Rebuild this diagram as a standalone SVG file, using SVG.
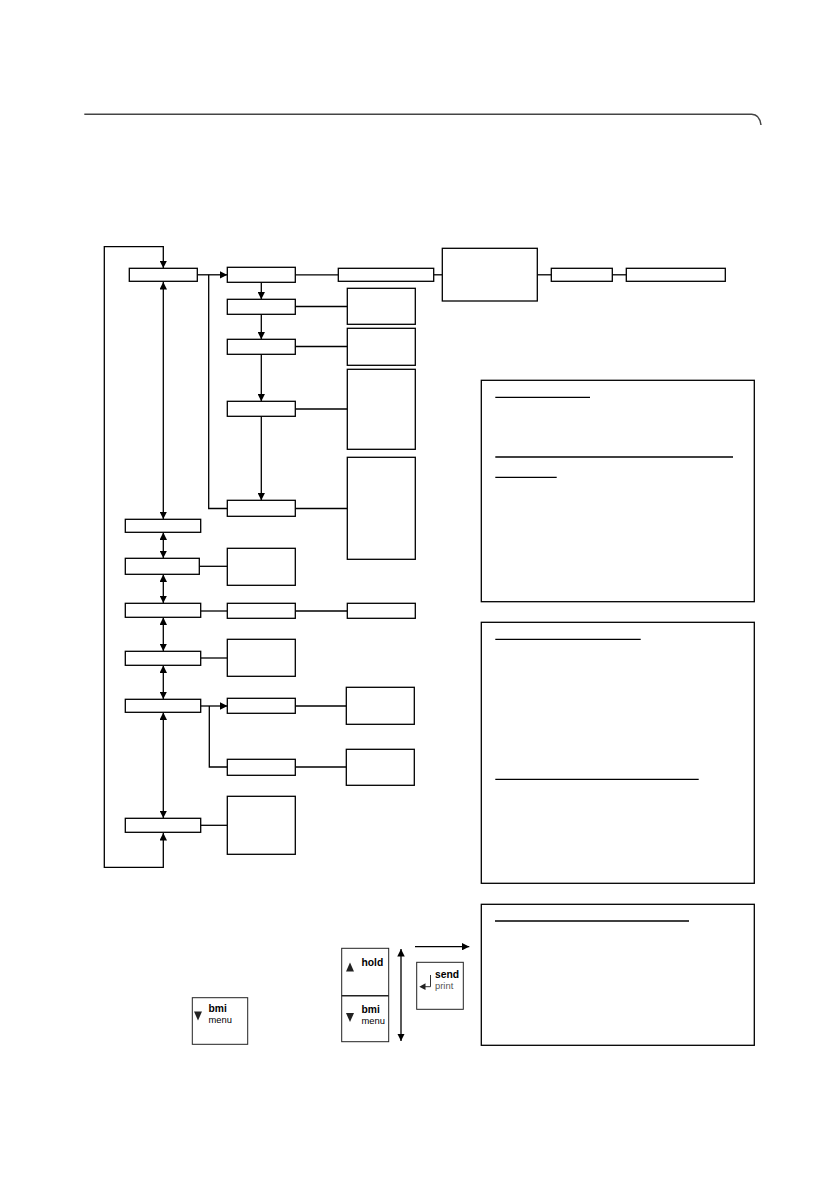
<svg xmlns="http://www.w3.org/2000/svg" width="838" height="1190" viewBox="0 0 838 1190">
<style>
.b{fill:#fff;stroke:#000;stroke-width:1.3}
.c{fill:none;stroke:#000;stroke-width:1.3}
.u{stroke:#000;stroke-width:1.3}
.t{font-family:"Liberation Sans",Arial,sans-serif;font-size:10.3px;fill:#000}
.r{font-size:9.4px}
.bd{font-weight:bold}
.g{fill:#222}
</style>
<defs>
<marker id="ah" viewBox="0 0 10 10" refX="10" refY="5" markerWidth="7.5" markerHeight="7.5" markerUnits="userSpaceOnUse" orient="auto-start-reverse">
<path d="M0,0 L10,5 L0,10 Z" fill="#000"/>
</marker>
</defs>
<rect width="838" height="1190" fill="#fff"/>
<path d="M84.3,114.3 H751.7 Q759.5,114.3 761,125" fill="none" stroke="#444" stroke-width="1.5"/>

<g id="connectors">
<path class="c" d="M163.3,833 V867.3 H104.3 V246.7 H163.3 V268" marker-start="url(#ah)" marker-end="url(#ah)"/>
<line class="c" x1="163.3" y1="282" x2="163.3" y2="519" marker-start="url(#ah)" marker-end="url(#ah)"/>
<line class="c" x1="163.3" y1="532.5" x2="163.3" y2="558" marker-start="url(#ah)" marker-end="url(#ah)"/>
<line class="c" x1="163.3" y1="574.5" x2="163.3" y2="603" marker-start="url(#ah)" marker-end="url(#ah)"/>
<line class="c" x1="163.3" y1="617.5" x2="163.3" y2="651" marker-start="url(#ah)" marker-end="url(#ah)"/>
<line class="c" x1="163.3" y1="665.5" x2="163.3" y2="699" marker-start="url(#ah)" marker-end="url(#ah)"/>
<line class="c" x1="163.3" y1="712.5" x2="163.3" y2="818" marker-start="url(#ah)" marker-end="url(#ah)"/>
<line class="c" x1="197.3" y1="274.8" x2="227.3" y2="274.8" marker-end="url(#ah)"/>
<path class="c" d="M208.7,274.8 V508.5 H227.3"/>
<line class="c" x1="261.3" y1="282.3" x2="261.3" y2="299.3" marker-end="url(#ah)"/>
<line class="c" x1="261.3" y1="314.3" x2="261.3" y2="339.3" marker-end="url(#ah)"/>
<line class="c" x1="261.3" y1="354.3" x2="261.3" y2="401.3" marker-end="url(#ah)"/>
<line class="c" x1="261.3" y1="416.3" x2="261.3" y2="500.3" marker-end="url(#ah)"/>
<line class="c" x1="295.3" y1="274.8" x2="338.3" y2="274.8"/>
<line class="c" x1="433.7" y1="274.8" x2="442.3" y2="274.8"/>
<line class="c" x1="537.3" y1="274.8" x2="551.3" y2="274.8"/>
<line class="c" x1="612.3" y1="274.8" x2="626.3" y2="274.8"/>
<line class="c" x1="295.3" y1="306.5" x2="347.3" y2="306.5"/>
<line class="c" x1="295.3" y1="346.5" x2="347.3" y2="346.5"/>
<line class="c" x1="295.3" y1="409" x2="347.3" y2="409"/>
<line class="c" x1="295.3" y1="508.5" x2="347.3" y2="508.5"/>
<line class="c" x1="199.3" y1="566.3" x2="227.3" y2="566.3"/>
<line class="c" x1="200.7" y1="611" x2="227.3" y2="611"/>
<line class="c" x1="295.3" y1="611" x2="347.3" y2="611"/>
<line class="c" x1="200.7" y1="658" x2="227.3" y2="658"/>
<line class="c" x1="200.7" y1="706" x2="227.3" y2="706" marker-end="url(#ah)"/>
<path class="c" d="M209.3,706 V767 H227.3"/>
<line class="c" x1="295.3" y1="706" x2="346.3" y2="706"/>
<line class="c" x1="295.3" y1="767" x2="346.3" y2="767"/>
<line class="c" x1="200.7" y1="825.3" x2="227.3" y2="825.3"/>
<line class="c" x1="401" y1="949" x2="401" y2="1041" stroke-width="1.1" marker-start="url(#ah)" marker-end="url(#ah)"/>
<line class="c" x1="415" y1="946.7" x2="469.3" y2="946.7" stroke-width="1.1" marker-end="url(#ah)"/>
</g>

<g id="main1"><rect class="b" x="129.3" y="268.3" width="68" height="13"/></g>
<g id="sub1"><rect class="b" x="227.3" y="267.3" width="68" height="15"/></g>
<g id="sub1a"><rect class="b" x="338.3" y="268.3" width="95.4" height="13"/></g>
<g id="sub1b"><rect class="b" x="442.3" y="248.3" width="95" height="52.7"/></g>
<g id="sub1c"><rect class="b" x="551.3" y="268.3" width="61" height="13"/></g>
<g id="sub1d"><rect class="b" x="626.3" y="268.3" width="99" height="13"/></g>
<g id="sub2"><rect class="b" x="227.3" y="299.3" width="68" height="15"/></g>
<g id="side1"><rect class="b" x="347.3" y="288.3" width="68" height="36"/></g>
<g id="sub3"><rect class="b" x="227.3" y="339.3" width="68" height="15"/></g>
<g id="side2"><rect class="b" x="347.3" y="328.3" width="68" height="37"/></g>
<g id="sub4"><rect class="b" x="227.3" y="401.3" width="68" height="15"/></g>
<g id="side3"><rect class="b" x="347.3" y="369.3" width="68" height="80"/></g>
<g id="sub5"><rect class="b" x="227.3" y="500.3" width="68" height="16"/></g>
<g id="side4"><rect class="b" x="347.3" y="457.3" width="68" height="102"/></g>
<g id="main2"><rect class="b" x="125.3" y="519.3" width="75.4" height="13"/></g>
<g id="main3"><rect class="b" x="125.3" y="558.3" width="74" height="16"/></g>
<g id="main3a"><rect class="b" x="227.3" y="548.3" width="68" height="37"/></g>
<g id="main4"><rect class="b" x="125.3" y="603.3" width="75.4" height="14"/></g>
<g id="main4a"><rect class="b" x="227.3" y="603.3" width="68" height="15"/></g>
<g id="main4b"><rect class="b" x="347.3" y="603.3" width="68" height="15"/></g>
<g id="main5"><rect class="b" x="125.3" y="651.3" width="75.4" height="14"/></g>
<g id="main5a"><rect class="b" x="227.3" y="639.3" width="68" height="37"/></g>
<g id="main6"><rect class="b" x="125.3" y="699.3" width="75.4" height="13"/></g>
<g id="main6a"><rect class="b" x="227.3" y="698.3" width="68" height="15"/></g>
<g id="main6b"><rect class="b" x="227.3" y="759.3" width="68" height="16"/></g>
<g id="main6c"><rect class="b" x="346.3" y="687.3" width="68" height="37"/></g>
<g id="main6d"><rect class="b" x="346.3" y="749.3" width="68" height="36"/></g>
<g id="main7"><rect class="b" x="125.3" y="818.3" width="75.4" height="14"/></g>
<g id="main7a"><rect class="b" x="227.3" y="796.3" width="68" height="58"/></g>

<g id="note1">
<rect class="b" x="481.3" y="380.3" width="273" height="221.4"/>
<line class="u" x1="495.3" y1="397.3" x2="590" y2="397.3"/>
<line class="u" x1="495.3" y1="457" x2="733" y2="457"/>
<line class="u" x1="495.3" y1="477.3" x2="556.7" y2="477.3"/>
</g>
<g id="note2">
<rect class="b" x="481.3" y="622.3" width="273" height="261"/>
<line class="u" x1="495.3" y1="639.3" x2="640.7" y2="639.3"/>
<line class="u" x1="495.3" y1="779.3" x2="698.7" y2="779.3"/>
</g>
<g id="note3">
<rect class="b" x="481.3" y="904.3" width="273" height="141"/>
<line class="u" x1="495" y1="921" x2="689" y2="921"/>
</g>

<g id="key-bmi">
<rect x="192.3" y="997.7" width="55.4" height="46.6" fill="#fff" stroke="#222" stroke-width="1"/>
<path class="g" d="M194,1011.5 L202,1011.5 L198,1020.5 Z"/>
<text class="t bd" x="208.5" y="1012.3">bmi</text>
<text class="t r" x="208.5" y="1023.3">menu</text>
</g>

<g id="key-hold-bmi">
<rect x="341.7" y="948.3" width="47" height="93.4" fill="#fff" stroke="#222" stroke-width="1"/>
<line x1="341.7" y1="995.7" x2="388.7" y2="995.7" stroke="#222" stroke-width="1.6"/>
<path class="g" d="M346,971.5 L354,971.5 L350,962.5 Z"/>
<text class="t bd" x="361.5" y="965.7">hold</text>
<path class="g" d="M346,1013 L354,1013 L350,1022 Z"/>
<text class="t bd" x="361.5" y="1013.3">bmi</text>
<text class="t r" x="361.5" y="1024.3">menu</text>
</g>

<g id="key-send">
<rect x="416.7" y="962.3" width="46.6" height="47" fill="#fff" stroke="#222" stroke-width="1"/>
<path d="M430.5,975 V986.7 H424" fill="none" stroke="#333" stroke-width="1"/>
<path class="g" d="M419.3,986.7 L425.5,983.3 L425.5,990.1 Z"/>
<text class="t bd" x="435" y="977.7">send</text>
<text class="t r" x="435" y="988.7" style="fill:#555">print</text>
</g>
</svg>
